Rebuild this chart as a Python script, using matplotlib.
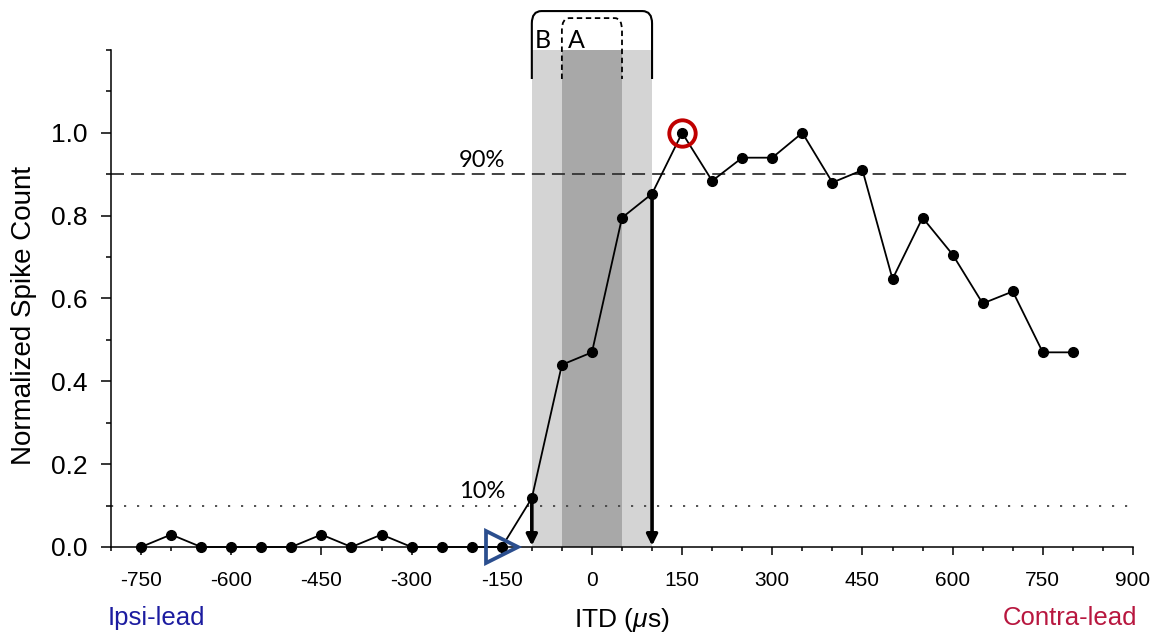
import numpy as np
import matplotlib
matplotlib.use('Agg')
import matplotlib.pyplot as plt
from matplotlib.path import Path
from matplotlib.patches import PathPatch
from matplotlib.ticker import MultipleLocator

plt.rcParams['font.family'] = ['Liberation Sans', 'DejaVu Sans']
plt.rcParams['mathtext.fontset'] = 'custom'
plt.rcParams['mathtext.rm'] = 'Liberation Sans'
plt.rcParams['mathtext.it'] = 'Liberation Sans:italic'
plt.rcParams['axes.unicode_minus'] = False

# ITD (us) and normalized spike count
itd = [-750, -700, -650, -600, -550, -500, -450, -400, -350, -300, -250, -200,
       -150, -100, -50, 0, 50, 100, 150, 200, 250, 300, 350, 400, 450, 500,
       550, 600, 650, 700, 750, 800]
count = [0.0, 0.03, 0.0, 0.0, 0.0, 0.0, 0.03, 0.0, 0.03, 0.0, 0.0, 0.0,
         0.0, 0.118, 0.44, 0.47, 0.795, 0.853, 1.0, 0.884, 0.94, 0.94, 1.0, 0.88,
         0.91, 0.647, 0.795, 0.706, 0.588, 0.617, 0.47, 0.47]

peak = (150, 1.0)          # red circle
onset = (-150, 0.0)        # blue triangle
arrows = [(-100, 0.118), (100, 0.853)]
range_b = (-100, 100)      # light band
range_a = (-50, 50)        # dark band
levels = {'90%': 0.9, '10%': 0.1}

fig = plt.figure(figsize=(11.63, 6.35), dpi=100)
ax = fig.add_axes([111 / 1163, 1 - 547 / 635, 1022 / 1163, 497 / 635])

ax.set_xlim(-800, 900)
ax.set_ylim(0, 1.2)

# shaded bands
ax.axvspan(*range_b, color='#d4d4d4', lw=0, zorder=0)
ax.axvspan(*range_a, color='#a8a8a8', lw=0, zorder=0)

# threshold lines
ax.axhline(levels['90%'], color='#333333', lw=1.3, ls=(0, (7.2, 3.9)), zorder=1)
ax.axhline(levels['10%'], color='#444444', lw=1.3, ls=(0, (1.2, 6)), zorder=1)
ax.text(-183, levels['90%'] + 0.008, '90%', family='Lato', fontsize=17,
        ha='center', va='bottom')
ax.text(-183, levels['10%'] + 0.008, '10%', family='Lato', fontsize=17,
        ha='center', va='bottom')

# arrows down to the axis
for x, y in arrows:
    ax.annotate('', xy=(x, 0.003), xytext=(x, y),
                arrowprops=dict(arrowstyle='-|>', color='black', lw=2.6,
                                mutation_scale=16, shrinkA=0, shrinkB=0),
                zorder=3)

# data
ax.plot(itd, count, '-o', color='black', lw=1.3, ms=7, clip_on=False, zorder=4)
ax.plot(*peak, 'o', ms=19, mfc='none', mec='#c00000', mew=2.8, clip_on=False, zorder=5)
ax.plot(*onset, '>', ms=23, mfc='none', mec='#2b4e8e', mew=2.7, clip_on=False, zorder=5)


# brackets above the bands
def bracket(x0, x1, ybot, ytop, rx, ry, **kw):
    verts = [(x0, ybot), (x0, ytop - ry), (x0, ytop), (x0 + rx, ytop),
             (x1 - rx, ytop), (x1, ytop), (x1, ytop - ry), (x1, ybot)]
    codes = [Path.MOVETO, Path.LINETO, Path.CURVE3, Path.CURVE3,
             Path.LINETO, Path.CURVE3, Path.CURVE3, Path.LINETO]
    ax.add_patch(PathPatch(Path(verts, codes), fill=False, clip_on=False, **kw))


bracket(range_b[0], range_b[1], 1.13, 1.294, 16, 0.03, lw=1.5, ec='black')
bracket(range_a[0], range_a[1], 1.13, 1.277, 12, 0.03, lw=1.3, ec='black', ls=(0, (3, 2)))
ax.text(-82, 1.222, 'B', family='Lato', fontsize=18, ha='center', va='center')
ax.text(-26, 1.222, 'A', family='Lato', fontsize=18, ha='center', va='center')

# axes styling
for s in ['top', 'right']:
    ax.spines[s].set_visible(False)
for s in ['left', 'bottom']:
    ax.spines[s].set_linewidth(1.1)

ax.xaxis.set_minor_locator(MultipleLocator(50))
ax.set_xticks(np.arange(-750, 901, 150))
ax.yaxis.set_minor_locator(MultipleLocator(0.1))
ax.set_yticks(np.arange(0, 1.01, 0.2))
ax.set_yticklabels(['0.0', '0.2', '0.4', '0.6', '0.8', '1.0'])

ax.tick_params(axis='x', which='major', length=6, width=1.1, labelsize=15, pad=11)
ax.tick_params(axis='x', which='minor', length=3, width=1.1)
ax.tick_params(axis='y', which='major', length=7, width=1.1, labelsize=19, pad=10)
ax.tick_params(axis='y', which='minor', length=3.5, width=1.1)

ax.set_xlabel(r'ITD ($\mu$s)', fontsize=19, labelpad=12)
ax.set_ylabel('Normalized Spike Count', fontsize=20)
ax.yaxis.set_label_coords(-0.072, 0.465)

fig.text(108 / 1163, 1 - 618 / 635, 'Ipsi-lead', color='#1c1ca0', fontsize=18.5,
         ha='left', va='center')
fig.text(1137 / 1163, 1 - 618 / 635, 'Contra-lead', color='#b8173f', fontsize=18.5,
         ha='right', va='center')

fig.savefig('out.png', dpi=100)
